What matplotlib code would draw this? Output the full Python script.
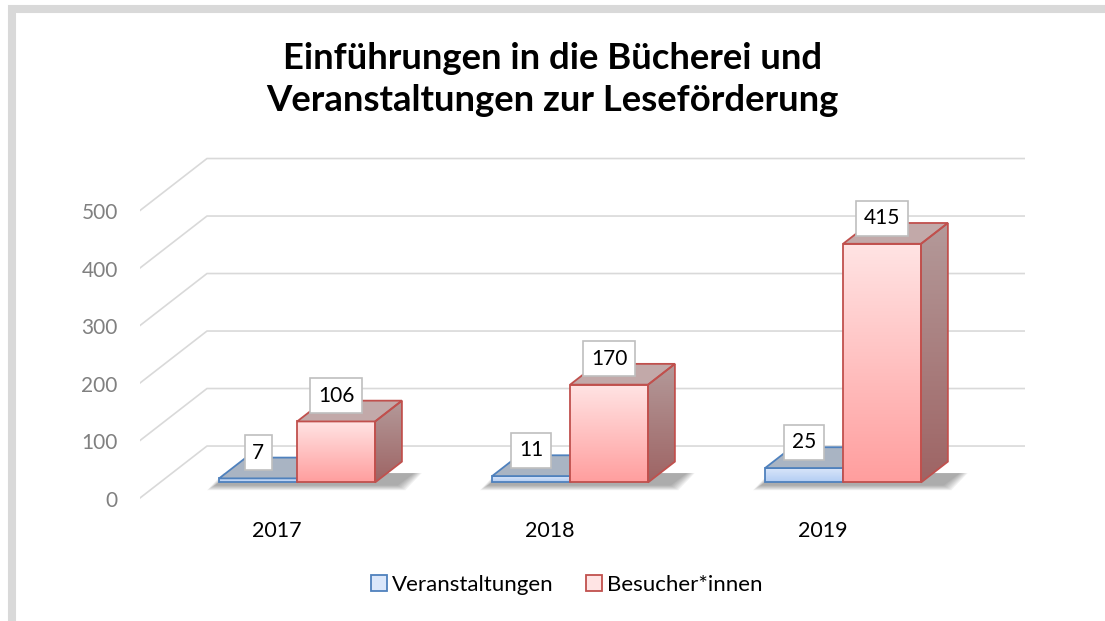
import numpy as np
import matplotlib.pyplot as plt
from matplotlib.patches import Polygon, Patch, Rectangle
from matplotlib.colors import LinearSegmentedColormap

plt.rcParams['font.family'] = ['Lato', 'DejaVu Sans']

years = ['2017', '2018', '2019']
veranstaltungen = [7, 11, 25]
besucher = [106, 170, 415]
series_names = ['Veranstaltungen', 'Besucher*innen']
yticks = [0, 100, 200, 300, 400, 500]
title = 'Einführungen in die Bücherei und\nVeranstaltungen zur Leseförderung'

# fake 3d projection: full depth vector in data units (x = category, y = value)
DX, DY = 0.2454, 90.4
W = 0.2857          # bar width
D0, D1 = 0.3, 0.7   # bars sit between these depth fractions
XL, XR = -0.502, 2.74

fig = plt.figure(figsize=(11.05, 6.21), dpi=100)
ax = fig.add_axes([140/1105, 1 - 515.25/621, 885/1105, 362.25/621])
ax.axis('off')

# outer frame
fig.patches.append(Rectangle((12/1105, -0.2), 1.2, 1.2 - 9/621, fill=False,
                             ec='#d9d9d9', lw=5.8, transform=fig.transFigure))

# grid: floor diagonals + back wall
for t in yticks:
    ax.plot([XL, XL + DX, XR], [t, t + DY, t + DY], color='#d9d9d9', lw=1.2, zorder=0)
    ax.annotate(str(t), (XL, t), xytext=(-16, -2), textcoords='offset points',
                ha='right', va='center', fontsize=15, color='#808080')


def grad_fill(patch, verts, c_top, c_bot, z):
    verts = np.asarray(verts)
    x0, x1 = verts[:, 0].min(), verts[:, 0].max()
    y0, y1 = verts[:, 1].min(), verts[:, 1].max()
    cmap = LinearSegmentedColormap.from_list('g', [c_bot, c_top])
    g = np.linspace(0, 1, 256).reshape(-1, 1)
    im = ax.imshow(g, extent=[x0, x1, y0, y1], origin='lower', cmap=cmap,
                   aspect='auto', zorder=z, interpolation='bicubic')
    im.set_clip_path(patch)


styles = {
    'Veranstaltungen': dict(edge='#4f81bd', front=('#dbe7fa', '#b3cdf3'),
                            top='#a9b4c3', side=('#8f9cb0', '#7b8aa3')),
    'Besucher*innen': dict(edge='#c0504d', front=('#ffe4e4', '#ff9e9e'),
                           top='#c2a9a9', side=('#b49a9a', '#9e6464')),
}

xs = np.arange(len(years))
base = D0 * DY
fx = D0 * DX
ddx, ddy = (D1 - D0) * DX, (D1 - D0) * DY

for i, c in enumerate(xs):
    # soft shadow on the floor under the pair of bars
    for k in range(8):
        e = 0.004 * (8 - k)
        x0 = c + fx - W - e - 0.012
        x1 = c + fx + W + ddx * 0.6 + e + 0.02
        y0 = base - 4 - e * 300
        y1 = base + ddy * 0.45
        sh = Polygon([(x0, y0), (x1, y0), (x1 + 0.06, y1), (x0 + 0.06, y1)],
                     closed=True, fc='#303030', ec='none', alpha=0.06, zorder=1)
        ax.add_patch(sh)
    for j, (name, vals, left) in enumerate([('Veranstaltungen', veranstaltungen, c + fx - W),
                                            ('Besucher*innen', besucher, c + fx)]):
        s = styles[name]
        v = vals[i]
        z = 3 + 3 * j
        bar = ax.bar(left, v, width=W, bottom=base, align='edge', fc='none',
                     ec=s['edge'], lw=1.3, zorder=z + 1)[0]
        grad_fill(bar, [(left, base), (left + W, base + v)],
                  s['front'][0], s['front'][1], z)
        top = Polygon([(left, base + v), (left + W, base + v),
                       (left + W + ddx, base + v + ddy), (left + ddx, base + v + ddy)],
                      closed=True, fc=s['top'], ec=s['edge'], lw=1.3, zorder=z + 1)
        ax.add_patch(top)
        side_xy = [(left + W, base), (left + W + ddx, base + ddy),
                   (left + W + ddx, base + ddy + v), (left + W, base + v)]
        side = Polygon(side_xy, closed=True, fc='none', ec=s['edge'], lw=1.3, zorder=z + 1)
        ax.add_patch(side)
        grad_fill(side, side_xy, s['side'][0], s['side'][1], z)
        ax.annotate(str(v), (left + W / 2, base + v), xytext=(0, 18.5),
                    textcoords='offset points', ha='center', va='center',
                    fontsize=15, color='black', zorder=10,
                    bbox=dict(boxstyle='square,pad=0.36', fc='white', ec='#bfbfbf', lw=1.2))
    ax.annotate(years[i], (c, 0), xytext=(0, -23.5), textcoords='offset points',
                ha='center', va='center', fontsize=15.5, color='black')

ax.set_xlim(XL, XR)
ax.set_ylim(-30, 600)

fig.text(0.5, 1 - 79.5/621, title, ha='center', va='center', fontsize=26.3,
         fontweight='bold', linespacing=1.33)

handles = [Patch(fc=styles[n]['front'][0], ec=styles[n]['edge'], lw=1.3) for n in series_names]
fig.legend(handles, series_names, loc='center', bbox_to_anchor=(0.513, 1 - 585/621),
           ncol=2, frameon=False, fontsize=16, handlelength=0.7, handleheight=0.7,
           handletextpad=0.25, columnspacing=1.45)

fig.savefig('out.png', dpi=100)
